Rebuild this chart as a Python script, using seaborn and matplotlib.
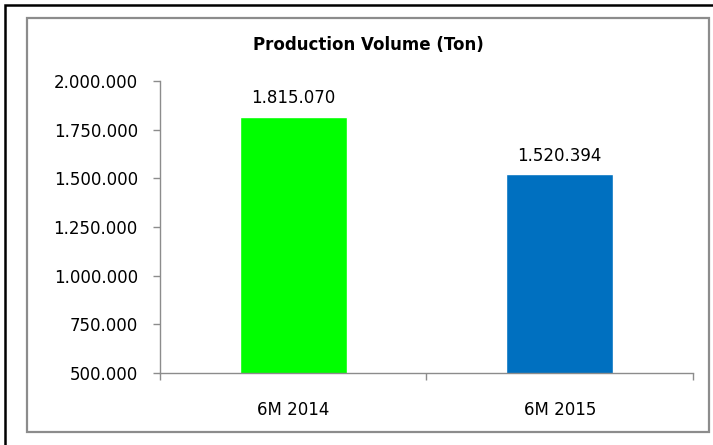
import matplotlib
matplotlib.use("Agg")
import matplotlib.pyplot as plt
import matplotlib.ticker as mticker
from matplotlib.patches import Rectangle
import seaborn as sns
import pandas as pd

# data
periods = ["6M 2014", "6M 2015"]
volumes = [1815070, 1520394]
bar_colors = ["#00FF00", "#0070C0"]
y_ticks = [500000, 750000, 1000000, 1250000, 1500000, 1750000, 2000000]

df = pd.DataFrame({"period": periods, "volume": volumes})

sns.set_style("white")
plt.rcParams["font.family"] = ["DejaVu Sans"]
plt.rcParams["text.color"] = "black"


def dotted(v, pos=None):
    return f"{v:,.0f}".replace(",", ".")


fig = plt.figure(figsize=(7.13, 4.45), dpi=100)
ax = fig.add_axes([0.2244, 0.1618, 0.7475, 0.656])

sns.barplot(data=df, x="period", y="volume", hue="period", palette=bar_colors,
            width=0.4, legend=False, saturation=1, ax=ax)

ax.set_ylim(y_ticks[0], y_ticks[-1])
ax.set_xlim(-0.5, 1.5)
ax.set_yticks(y_ticks)
ax.yaxis.set_major_formatter(mticker.FuncFormatter(dotted))
ax.set_xlabel("")
ax.set_ylabel("")

# category separators as minor ticks, like Excel
ax.set_xticks([-0.5, 0.5, 1.5], minor=True)
ax.tick_params(axis="x", which="major", bottom=True, length=0, pad=20,
               labelsize=12, labelcolor="black")
ax.tick_params(axis="x", which="minor", bottom=True, length=5, width=1,
               color="#8c8c8c", direction="out")
ax.tick_params(axis="y", left=True, length=5, width=1, color="#8c8c8c",
               direction="out", pad=11, labelsize=12, labelcolor="black")

for side in ["top", "right"]:
    ax.spines[side].set_visible(False)
for side in ["left", "bottom"]:
    ax.spines[side].set_color("#8c8c8c")
    ax.spines[side].set_linewidth(1)

for cont in ax.containers:
    ax.bar_label(cont, labels=[dotted(v) for v in cont.datavalues], padding=7,
                 fontsize=12, color="black")

# title centered over the chart area
fig.text(0.516, 0.899, "Production Volume (Ton)", ha="center", va="center",
         fontsize=12, fontweight="bold", color="black")

# gray chart-area frame and outer black frame
fig.patches.append(Rectangle((27 / 713, 13 / 445), 682 / 713, 414 / 445,
                             transform=fig.transFigure, fill=False,
                             edgecolor="#8c8c8c", linewidth=1.6))
fig.patches.append(Rectangle((5 / 713, -0.1), 1.2, 1.1 - 5 / 445 + 0.001,
                             transform=fig.transFigure, fill=False,
                             edgecolor="black", linewidth=1.8))

fig.savefig("out.png", dpi=100)
